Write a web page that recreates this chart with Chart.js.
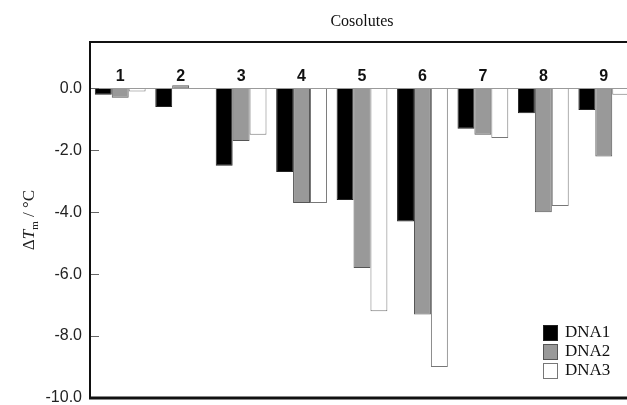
<!DOCTYPE html>
<html>
<head>
<meta charset="utf-8">
<script src="https://cdn.jsdelivr.net/npm/chart.js@4"></script>
<style>
  html, body { margin: 0; padding: 0; background: #fff; overflow: hidden; }
  #wrap { width: 640px; height: 405px; }
</style>
</head>
<body>
<div id="wrap"><canvas id="chart" width="640" height="405"></canvas></div>
<script>
const cosolutes = ['1', '2', '3', '4', '5', '6', '7', '8', '9'];
const dna1 = [-0.2, -0.6, -2.5, -2.7, -3.6, -4.3, -1.3, -0.8, -0.7];
const dna2 = [-0.3, 0.1, -1.7, -3.7, -5.8, -7.3, -1.5, -4.0, -2.2];
const dna3 = [-0.1, 0.0, -1.5, -3.7, -7.2, -9.0, -1.6, -3.8, -0.2];
const yTicks = [-10, -8, -6, -4, -2, 0];

// frame, inside ticks, category numbers, title, axis title and legend
const decor = {
    id: 'decor',
    afterDatasetsDraw(chart) {
        const ctx = chart.ctx;
        const a = chart.chartArea;
        const y = chart.scales.y;
        const x = chart.scales.x;
        ctx.save();

        // tick marks pointing into the plot
        ctx.strokeStyle = '#666';
        ctx.lineWidth = 1;
        yTicks.forEach(v => {
            const py = Math.round(y.getPixelForValue(v)) + 0.5;
            ctx.beginPath();
            ctx.moveTo(a.left, py);
            ctx.lineTo(a.left + 9, py);
            ctx.stroke();
        });

        // box
        ctx.strokeStyle = '#111';
        ctx.lineWidth = 2;
        ctx.beginPath();
        ctx.moveTo(a.right + 20, a.top);
        ctx.lineTo(a.left, a.top);
        ctx.lineTo(a.left, a.bottom);
        ctx.stroke();
        ctx.lineWidth = 3;
        ctx.beginPath();
        ctx.moveTo(a.left - 1, a.bottom);
        ctx.lineTo(a.right + 20, a.bottom);
        ctx.stroke();

        // category numbers inside the plot
        ctx.fillStyle = '#111';
        ctx.font = 'bold 16px "Liberation Sans", Arial, sans-serif';
        ctx.textAlign = 'center';
        ctx.textBaseline = 'middle';
        cosolutes.forEach((c, i) => {
            ctx.fillText(c, x.getPixelForValue(i), a.top + 35);
        });

        // title
        ctx.font = '16px "Liberation Serif", "Times New Roman", serif';
        ctx.fillText('Cosolutes', (a.left + a.right) / 2, 22);

        // y axis title: ΔTm / °C with italic T and subscript m
        ctx.translate(28, (a.top + a.bottom) / 2);
        ctx.rotate(-Math.PI / 2);
        ctx.textAlign = 'left';
        ctx.textBaseline = 'alphabetic';
        const parts = [
            ['Δ', '17px "Liberation Serif", serif', 0],
            ['T', 'italic 17px "Liberation Serif", serif', 0],
            ['m', '11px "Liberation Serif", serif', 4],
            [' / °C', '17px "Liberation Serif", serif', 0]
        ];
        let total = 0;
        parts.forEach(p => { ctx.font = p[1]; total += ctx.measureText(p[0]).width; });
        let px = -total / 2;
        ctx.fillStyle = '#222';
        parts.forEach(p => {
            ctx.font = p[1];
            ctx.fillText(p[0], px, 6 + p[2]);
            px += ctx.measureText(p[0]).width;
        });
        ctx.restore();

        // legend, bottom right inside the plot
        ctx.save();
        ctx.font = '17px "Liberation Serif", "Times New Roman", serif';
        ctx.textBaseline = 'middle';
        chart.data.datasets.forEach((ds, i) => {
            const ly = a.bottom - 66 + i * 19;
            const lx = 543;
            ctx.fillStyle = ds.backgroundColor;
            ctx.fillRect(lx, ly - 7, 14, 15);
            ctx.strokeStyle = ds.borderColor;
            ctx.lineWidth = 1;
            ctx.strokeRect(lx + 0.5, ly - 6.5, 14, 15);
            ctx.fillStyle = '#111';
            ctx.fillText(ds.label, lx + 22, ly + 1);
        });
        ctx.restore();
    }
};

new Chart(document.getElementById('chart'), {
    type: 'bar',
    data: {
        labels: cosolutes,
        datasets: [
            { label: 'DNA1', data: dna1, backgroundColor: '#000000', borderColor: '#222222', borderWidth: 1 },
            { label: 'DNA2', data: dna2, backgroundColor: '#999999', borderColor: '#555555', borderWidth: 1 },
            { label: 'DNA3', data: dna3, backgroundColor: '#ffffff', borderColor: '#777777', borderWidth: 1 }
        ]
    },
    options: {
        responsive: false,
        animation: false,
        layout: { padding: { top: 42, bottom: 7, right: 6, left: 0 } },
        datasets: { bar: { categoryPercentage: 0.84, barPercentage: 1.0 } },
        plugins: { legend: { display: false }, tooltip: { enabled: false }, title: { display: false } },
        scales: {
            x: { display: false, grid: { display: false } },
            y: {
                min: -10,
                max: 1.5,
                afterBuildTicks: s => { s.ticks = yTicks.map(v => ({ value: v })); },
                afterFit: s => { s.width = 90; s.paddingTop = 0; s.paddingBottom = 0; },
                border: { display: false },
                grid: {
                    drawTicks: false,
                    color: c => (c.tick && c.tick.value === 0 ? '#9a9a9a' : 'rgba(0,0,0,0)')
                },
                ticks: {
                    padding: 8,
                    color: '#222',
                    font: { family: '"Liberation Sans", Arial, sans-serif', size: 16 },
                    callback: v => v.toFixed(1)
                }
            }
        }
    },
    plugins: [decor]
});
</script>
</body>
</html>
